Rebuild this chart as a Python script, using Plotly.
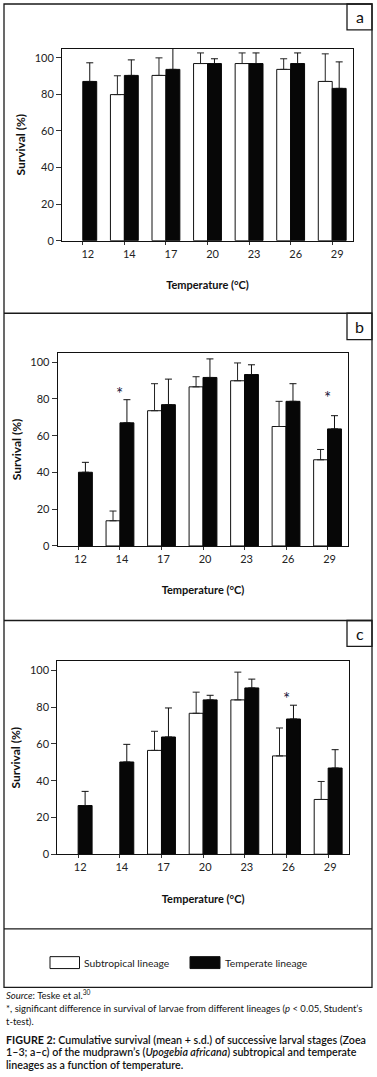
import plotly.graph_objects as go

W, H = 377, 1077

temps = ["12", "14", "17", "20", "23", "26", "29"]

# Panel a (Zoea 1)
a_sub = [None, 79.9, 90.4, 96.9, 96.9, 93.7, 87.1]
a_sub_sd = [None, 10.3, 9.6, 5.8, 5.8, 5.8, 15.1]
a_tem = [87.1, 90.4, 93.7, 96.9, 96.9, 96.9, 83.3]
a_tem_sd = [10.2, 8.5, 13.0, 2.6, 5.8, 5.8, 14.5]

# Panel b (Zoea 2)
b_sub = [None, 13.7, 73.6, 86.6, 89.9, 65.0, 46.9]
b_sub_sd = [None, 5.3, 14.7, 5.5, 9.7, 13.7, 5.6]
b_tem = [40.1, 67.0, 76.9, 91.7, 93.3, 78.7, 63.7]
b_tem_sd = [5.4, 12.6, 13.9, 10.1, 5.3, 9.6, 7.2]

# Panel c (Zoea 3)
c_sub = [None, None, 56.5, 76.7, 84.0, 53.5, 29.8]
c_sub_sd = [None, None, 10.4, 11.5, 15.1, 15.2, 9.8]
c_tem = [26.5, 50.2, 63.8, 84.0, 90.5, 73.6, 46.9]
c_tem_sd = [7.7, 9.6, 15.8, 2.5, 4.8, 7.5, 10.0]

# significance markers: (panel, category, y)
stars = [("b", "14", 84.5), ("b", "29", 82.5), ("c", "26", 86.5)]

panel_names = ["a", "b", "c"]
series = {
    "a": (a_sub, a_sub_sd, a_tem, a_tem_sd),
    "b": (b_sub, b_sub_sd, b_tem, b_tem_sd),
    "c": (c_sub, c_sub_sd, c_tem, c_tem_sd),
}

# plot-area pixel geometry: (left, right, top, bottom)
geom = {
    "a": (62, 353, 49, 242),
    "b": (57.7, 348.3, 355, 549),
    "c": (57.3, 349, 665, 859),
}
shift = {"a": 5, "b": 2, "c": 2}

FONT = "Lato"
fig = go.Figure()

def px(x):
    return x / W

def py(y):
    return 1 - y / H

for i, p in enumerate(panel_names):
    sfx = "" if i == 0 else str(i + 1)
    sub, sub_sd, tem, tem_sd = series[p]
    fig.add_trace(go.Bar(
        x=temps, y=sub, name="Subtropical lineage", showlegend=False,
        marker=dict(color="white", line=dict(color="#111", width=1)),
        error_y=dict(type="data", array=sub_sd, arrayminus=[0] * 7, symmetric=False,
                     color="#222", thickness=1, width=3.5),
        xaxis="x" + sfx, yaxis="y" + sfx,
    ))
    fig.add_trace(go.Bar(
        x=temps, y=tem, name="Temperate lineage", showlegend=False,
        marker=dict(color="#070707", line=dict(color="#070707", width=1)),
        error_y=dict(type="data", array=tem_sd, arrayminus=[0] * 7, symmetric=False,
                     color="#111", thickness=1, width=3.5),
        xaxis="x" + sfx, yaxis="y" + sfx,
    ))
    l, r, t, b = geom[p]
    xa = dict(
        domain=[px(l), px(r)], anchor="y" + sfx, type="category",
        categoryorder="array", categoryarray=temps,
        range=[-0.5, len(temps) - 0.5],
        showline=True, mirror=True, linecolor="#111", linewidth=1,
        ticks="outside", ticklen=3, tickcolor="#333",
        tickfont=dict(family=FONT, size=11, color="#222"),
        ticklabelshift=shift[p],
        title=dict(text="<b>Temperature (°C)</b>", font=dict(family=FONT, size=11, color="#111"),
                   standoff=22),
        showgrid=False, zeroline=False,
    )
    ya = dict(
        domain=[py(b), py(t)], anchor="x" + sfx, range=[0, 105],
        tickvals=[0, 20, 40, 60, 80, 100],
        showline=True, mirror=True, linecolor="#111", linewidth=1,
        ticks="outside", ticklen=5, tickcolor="#333",
        tickfont=dict(family=FONT, size=11, color="#222"),
        title=dict(text="<b>Survival (%)</b>", font=dict(family=FONT, size=12, color="#111"),
                   standoff=6),
        showgrid=False, zeroline=False,
    )
    fig.layout["xaxis" + sfx] = xa
    fig.layout["yaxis" + sfx] = ya

# asterisks for significant differences (placed at the category index)
for p, cat, yv in stars:
    i = panel_names.index(p)
    sfx = "" if i == 0 else str(i + 1)
    fig.add_annotation(x=temps.index(cat), y=yv, xref="x" + sfx, yref="y" + sfx, text="*",
                       showarrow=False, yanchor="middle",
                       font=dict(family=FONT, size=17, color="#15153a"), yshift=-3)

shapes = []
line = dict(color="#1a1a1a", width=1.3)
# outer box and dividers
shapes.append(dict(type="rect", xref="paper", yref="paper", x0=px(4), x1=px(372),
                   y0=py(993), y1=py(4), line=line))
for yy in [315, 624, 934]:
    shapes.append(dict(type="line", xref="paper", yref="paper", x0=px(4), x1=px(372),
                       y0=py(yy), y1=py(yy), line=line))
# panel label boxes
label_boxes = {"a": (4, 30), "b": (315, 341.5), "c": (624, 650)}
for p, (t0, t1) in label_boxes.items():
    shapes.append(dict(type="rect", xref="paper", yref="paper", x0=px(347), x1=px(372),
                       y0=py(t1), y1=py(t0), line=line))
    fig.add_annotation(x=px(359.5), y=py((t0 + t1) / 2), xref="paper", yref="paper",
                       text=p, showarrow=False, xanchor="center", yanchor="middle",
                       font=dict(family=FONT, size=16, color="#111"))

# legend
legend_items = [("Subtropical lineage", "white", 50, 79.5), ("Temperate lineage", "#070707", 190, 220)]
for name, col, x0, x1 in legend_items:
    shapes.append(dict(type="rect", xref="paper", yref="paper", x0=px(x0), x1=px(x1),
                       y0=py(974), y1=py(962), fillcolor=col, line=dict(color="#111", width=1)))
    fig.add_annotation(x=px(x1 + 2.5), y=py(968), xref="paper", yref="paper", text=name,
                       showarrow=False, xanchor="left", yanchor="middle",
                       font=dict(family=FONT, size=10.3, color="#222"))

# caption lines
caption = [
    ("<i>Source</i>: Teske et al.<sup>30</sup>", 1000, 9.5, False),
    ("*, significant difference in survival of larvae from different lineages (<i>p</i> &lt; 0.05, Student’s", 1014, 9.5, False),
    ("t-test).", 1027, 9.5, False),
    ("<b>FIGURE 2:</b> Cumulative survival (mean + s.d.) of successive larval stages (Zoea", 1045, 10.7, True),
    ("1–3; a–c) of the mudprawn’s (<i>Upogebia africana</i>) subtropical and temperate", 1057.5, 10.7, True),
    ("lineages as a function of temperature.", 1070, 10.7, True),
]
for txt, yy, fs, bold in caption:
    fig.add_annotation(x=px(4), y=py(yy), xref="paper", yref="paper",
                       text=txt, showarrow=False, xanchor="left", yanchor="middle",
                       font=dict(family=FONT, size=fs, color="#111",
                                 weight=600 if bold else 400))

fig.update_layout(
    width=W, height=H, margin=dict(l=0, r=0, t=0, b=0),
    paper_bgcolor="white", plot_bgcolor="white",
    barmode="group", bargap=0.33, bargroupgap=0,
    shapes=shapes, showlegend=False,
    font=dict(family=FONT),
)

fig.write_html("out.html", config={"displayModeBar": False},
               post_script="document.body.style.margin='0';document.body.style.overflow='hidden';")
